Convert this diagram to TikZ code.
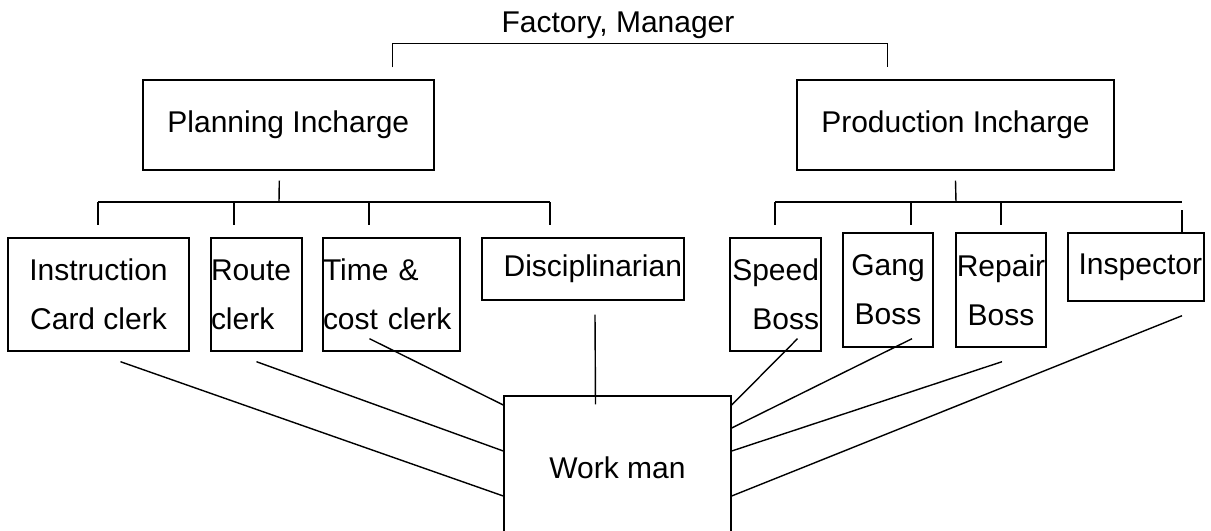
\documentclass[tikz,border=0pt]{standalone}
\usepackage{fontspec}
\setmainfont{Liberation Sans}
\usetikzlibrary{calc}
\newlength{\px}
\setlength{\px}{0.02cm}
\begin{document}
\begin{tikzpicture}[x=0.02cm, y=-0.02cm, line width=0.8pt]
    % Define box styles
    \tikzstyle{box} = [draw, rectangle, inner sep=0pt, align=center, font=\fontsize{17.07}{27.9}\selectfont]
    \tikzstyle{lbl} = [inner sep=0pt, font=\fontsize{17.07}{27.9}\selectfont]
    \useasboundingbox (0,0) rectangle (1211,531);

    % Top and second level
    \node[lbl] (fm) at (618,25) {Factory, Manager};
    \node[box, minimum width=291\px, minimum height=90\px] (plan) at (288.3,125) {Planning Incharge};
    \node[box, minimum width=317\px, minimum height=90\px] (prod) at (955.5,125) {Production Incharge};

    % Planning staff
    \node[box, minimum width=181\px, minimum height=113\px] (instr) at (98.5,294.5) {Instruction\\Card clerk};
    \node[box, align=left, text width=91\px, minimum height=113\px] (route) at (256.5,294.5) {Route\\clerk};
    \node[box, align=left, text width=137\px, minimum height=113\px] (time) at (391.5,294.5) {Time \&\\cost clerk};
    \node[box, align=right, text width=198\px, inner xsep=2\px, minimum height=62\px] (disc) at (583,269) {Disciplinarian};

    % Production staff
    \node[box, align=right, text width=87\px, minimum width=91\px, minimum height=113\px] (speed) at (775.5,294.5) {Speed\\Boss};
    \node[box, minimum width=90\px, minimum height=114\px] (gang) at (888,290) {Gang\\Boss};
    \node[box, minimum width=90\px, minimum height=114\px] (repair) at (1001,290) {Repair\\Boss};
    \node[box, align=right, text width=132\px, inner xsep=2\px, minimum height=68\px] (insp) at (1136,267) {Inspector};

    % Bottom
    \node[box, minimum width=227\px, minimum height=144\px] (wm) at (617.5,468) {Work man};

    % Tree brackets
    \draw ([shift={(104,-12)}]plan.north) |- ([shift={(-68,-36)}]prod.north) -- ++(0,24);
    \draw ([shift={(-9,10)}]plan.south) -- (279,202);
    \draw (98,202) -- (550,202);
    \foreach \x in {98,234,369,550}
        \draw (\x,202) -- (\x,225);
    \draw ([shift={(0,10)}]prod.south) -- (956,202);
    \draw (775,202) -- (1182,202);
    \foreach \x in {775,911,1001}
        \draw (\x,202) -- (\x,225);
    \draw (1182,210) -- (insp.north -| 1182,0);

    % Lines to the work man
    \draw ([shift={(22,10)}]instr.south) -- ([shift={(0,28)}]wm.west);
    \draw ([shift={(0,10)}]route.south) -- ([shift={(0,-17)}]wm.west);
    \draw ([shift={(-22,-13)}]time.south) -- ([shift={(0,-63)}]wm.west);
    \draw ([shift={(12,14)}]disc.south) -- ([shift={(-22,9)}]wm.north);
    \draw ([shift={(22,-13)}]speed.south) -- ([shift={(0,-63)}]wm.east);
    \draw ([shift={(24,-9)}]gang.south) -- ([shift={(0,-40)}]wm.east);
    \draw ([shift={(1,14)}]repair.south) -- ([shift={(0,-17)}]wm.east);
    \draw ([shift={(46,14)}]insp.south) -- ([shift={(0,28)}]wm.east);
\end{tikzpicture}
\end{document}
